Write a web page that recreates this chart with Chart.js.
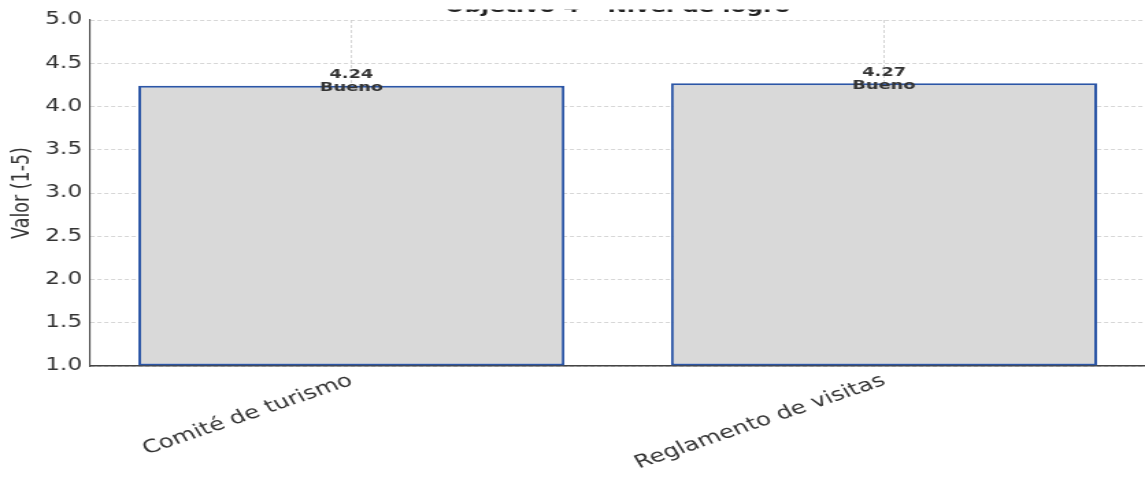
<!DOCTYPE html>
<html>
<head>
<meta charset="utf-8">
<script src="https://cdn.jsdelivr.net/npm/chart.js@4/dist/chart.umd.min.js"></script>
<style>
    html, body { margin: 0; padding: 0; background: #ffffff; }
</style>
</head>
<body>
<!-- the picture is stretched sideways, so the canvas is drawn narrow and widened by css -->
<canvas id="chart" width="836" height="478" style="display:block;width:1145px;height:478px"></canvas>
<script>
const chartTitle = 'Objetivo 4 – Nivel de logro';
const categories = ['Comité de turismo', 'Reglamento de visitas'];
const values = [4.24, 4.27];
const ratings = ['Bueno', 'Bueno'];
const yTicks = [1.0, 1.5, 2.0, 2.5, 3.0, 3.5, 4.0, 4.5, 5.0];

const FONT = '"DejaVu Sans", sans-serif';

// title is cut off at the top of the picture, only its lowest pixels show
const titlePlugin = {
    id: 'cutTitle',
    afterDraw(chart) {
        const { ctx, chartArea, width } = chart;
        ctx.save();
        ctx.beginPath();
        ctx.rect(0, 9.5, width, 10);
        ctx.clip();
        ctx.textAlign = 'center';
        ctx.textBaseline = 'alphabetic';
        ctx.fillStyle = '#222222';
        ctx.font = 'bold 17px ' + FONT;
        ctx.fillText(chartTitle, (chartArea.left + chartArea.right) / 2, 12);
        ctx.restore();
    }
};

const valueLabelsPlugin = {
    id: 'valueLabels',
    afterDatasetsDraw(chart) {
        const { ctx } = chart;
        const meta = chart.getDatasetMeta(0);
        ctx.save();
        ctx.textAlign = 'center';
        ctx.textBaseline = 'middle';
        ctx.fillStyle = '#333333';
        ctx.font = 'bold 13px ' + FONT;
        meta.data.forEach((bar, i) => {
            ctx.fillText(values[i].toFixed(2), bar.x, bar.y - 11);
            ctx.fillText(ratings[i], bar.x, bar.y + 2);
        });
        ctx.restore();
    }
};

new Chart(document.getElementById('chart'), {
    type: 'bar',
    data: {
        datasets: [{
            label: 'Valor',
            data: values.map((v, i) => ({ x: i, y: v })),
            backgroundColor: '#d9d9d9',
            borderColor: '#2c56a6',
            borderWidth: 2,
            borderSkipped: false,
            base: 1,
            categoryPercentage: 1,
            barPercentage: 0.8
        }]
    },
    options: {
        responsive: false,
        animation: false,
        devicePixelRatio: 1,
        layout: { padding: { top: 20, left: 0, right: 0, bottom: 0 } },
        plugins: {
            legend: { display: false },
            tooltip: { enabled: false }
        },
        scales: {
            x: {
                type: 'linear',
                min: -0.49,
                max: 1.49,
                offset: false,
                afterBuildTicks: scale => { scale.ticks = categories.map((_, i) => ({ value: i })); },
                afterFit: scale => { scale.height = 112; },
                ticks: {
                    callback: v => categories[v],
                    autoSkip: false,
                    minRotation: 25,
                    maxRotation: 25,
                    padding: 4,
                    color: '#333333',
                    font: { family: FONT, size: 18 }
                },
                grid: { offset: false, color: '#cccccc', lineWidth: 0.8, drawTicks: false },
                border: { color: '#444444', width: 1.5, dash: [3, 2] }
            },
            y: {
                min: 1,
                max: 5,
                afterBuildTicks: scale => { scale.ticks = yTicks.map(v => ({ value: v })); },
                afterFit: scale => { scale.width = 66; },
                ticks: {
                    callback: v => Number(v).toFixed(1),
                    padding: 6,
                    color: '#333333',
                    font: { family: FONT, size: 17 }
                },
                title: {
                    display: true,
                    text: 'Valor (1-5)',
                    color: '#333333',
                    font: { family: FONT, size: 17.5 },
                    padding: { top: 6, bottom: 0 }
                },
                grid: { color: '#cccccc', lineWidth: 0.8, drawTicks: false },
                border: { color: '#444444', width: 1.1, dash: [3, 2] }
            }
        }
    },
    plugins: [valueLabelsPlugin, titlePlugin]
});
</script>
</body>
</html>
